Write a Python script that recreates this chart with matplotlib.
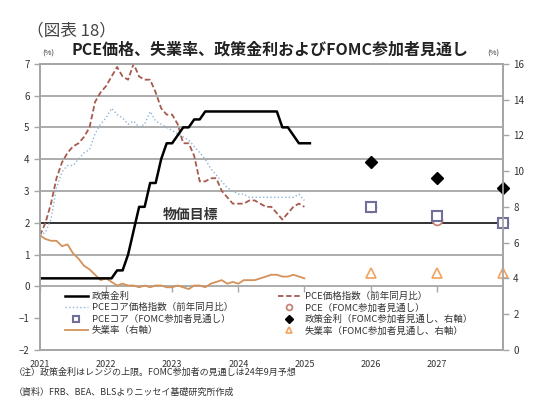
import matplotlib
matplotlib.use('Agg')
import matplotlib.pyplot as plt
import numpy as np

plt.rcParams['font.family'] = ['Noto Sans CJK JP', 'DejaVu Sans']

# monthly data, Jan 2021 onwards
pce = [1.6, 2.0, 2.6, 3.4, 3.9, 4.2, 4.4, 4.5, 4.7, 5.0, 5.8, 6.1,
       6.3, 6.6, 6.9, 6.6, 6.5, 7.0, 6.6, 6.5, 6.5, 6.1, 5.6, 5.4,
       5.4, 5.1, 4.5, 4.5, 4.1, 3.3, 3.3, 3.4, 3.4, 3.0, 2.8, 2.6,
       2.6, 2.6, 2.7, 2.7, 2.6, 2.5, 2.5, 2.3, 2.1, 2.3, 2.5, 2.6,
       2.5]
core = [1.6, 1.7, 2.1, 3.1, 3.6, 3.8, 3.8, 4.0, 4.2, 4.3, 4.8, 5.1,
        5.3, 5.6, 5.4, 5.3, 5.1, 5.2, 5.0, 5.1, 5.5, 5.2, 5.1, 5.0,
        4.9, 4.8, 4.7, 4.6, 4.4, 4.2, 4.0, 3.7, 3.5, 3.3, 3.1, 3.0,
        2.9, 2.9, 2.8, 2.8, 2.8, 2.8, 2.8, 2.8, 2.8, 2.8, 2.8, 2.9,
        2.7]
unemp = [6.4, 6.2, 6.1, 6.1, 5.8, 5.9, 5.4, 5.1, 4.7, 4.5, 4.2, 3.9,
         4.0, 3.8, 3.6, 3.7, 3.6, 3.6, 3.5, 3.6, 3.5, 3.6, 3.6, 3.5,
         3.5, 3.6, 3.5, 3.4, 3.6, 3.6, 3.5, 3.7, 3.8, 3.9, 3.7, 3.8,
         3.7, 3.9, 3.9, 3.9, 4.0, 4.1, 4.2, 4.2, 4.1, 4.1, 4.2, 4.1,
         4.0]
rate = [0.25] * 12 + \
       [0.25, 0.25, 0.5, 0.5, 1.0, 1.75, 2.5, 2.5, 3.25, 3.25, 4.0, 4.5] + \
       [4.5, 4.75, 5.0, 5.0, 5.25, 5.25, 5.5, 5.5, 5.5, 5.5, 5.5, 5.5] + \
       [5.5, 5.5, 5.5, 5.5, 5.5, 5.5, 5.5, 5.5, 5.0, 5.0, 4.75, 4.5] + \
       [4.5, 4.5]

# FOMC projections (end of 2025, 2026, 2027)
proj_x = [2026, 2027, 2028]
proj_pce = [2.5, 2.1, 2.0]
proj_core = [2.5, 2.2, 2.0]
proj_rate = [3.9, 3.4, 3.1]
proj_unemp = [4.3, 4.3, 4.3]

years = [2021, 2022, 2023, 2024, 2025, 2026, 2027]

def months(n):
    return 2021 + np.arange(n) / 12.0

def to_left(v):
    # right axis 0..16 mapped onto left axis -2..7
    return np.array(v) * 9 / 16 - 2

gray = '#a6a6a6'
c_pce = '#a65a4e'
c_core = '#8db4d8'
c_unemp = '#d4925a'
c_sq = '#6f6f99'
c_circ = '#c4847a'
c_tri = '#f2a35e'

fig = plt.figure(figsize=(5.4, 4.17), dpi=100)
ax = fig.add_axes([0.074, 0.161, 0.857, 0.686])
ax2 = ax.twinx()

for g in [0, 1, 3, 4, 5, 6]:
    ax.axhline(g, color=gray, lw=1.3, zorder=1)
ax.axhline(2, color='#222222', lw=1.3, zorder=1)
ax.plot(years, [0] * len(years), ls='none', marker=3, ms=4, color=gray, mew=1, zorder=1)

l_rate, = ax.plot(months(len(rate)), rate, color='black', lw=1.8, zorder=4)
l_core, = ax.plot(months(len(core)), core, color=c_core, lw=1.0, ls=':', zorder=3)
l_pce, = ax.plot(months(len(pce)), pce, color=c_pce, lw=1.3, ls=(0, (3, 1.5)), zorder=3)
l_un, = ax.plot(months(len(unemp)), to_left(unemp), color=c_unemp, lw=1.3, zorder=3)

m_circ, = ax.plot(proj_x, proj_pce, ls='none', marker='o', ms=7, mfc='white',
                  mec=c_circ, mew=1.3, zorder=5, clip_on=False)
m_sq, = ax.plot(proj_x, proj_core, ls='none', marker='s', ms=7.5, mfc='white',
                mec=c_sq, mew=1.5, zorder=6, clip_on=False)
m_dia, = ax.plot(proj_x, proj_rate, ls='none', marker='D', ms=6.5, color='black',
                 zorder=6, clip_on=False)
m_tri, = ax.plot(proj_x, to_left(proj_unemp), ls='none', marker='^', ms=7, mfc='white',
                 mec=c_tri, mew=1.2, zorder=6, clip_on=False)

ax.text(2022.85, 2.25, '物価目標', fontsize=10, fontweight='bold', color='#333333',
        va='center', ha='left')

ax.set_xlim(2021, 2028)
ax.set_ylim(-2, 7)
ax2.set_ylim(0, 16)
ax.set_yticks(range(-2, 8))
ax2.set_yticks(range(0, 17, 2))
ax.set_xticks(years)
ax.set_xticklabels([str(y) for y in years])
ax.tick_params(axis='x', length=0, labelsize=6.5, colors='#333333', pad=7)
ax.tick_params(axis='y', length=4, width=1, color=gray, labelsize=7, labelcolor='#333333')
ax2.tick_params(axis='y', length=4, width=1, color=gray, labelsize=7, labelcolor='#333333')
for a in (ax, ax2):
    for s in a.spines.values():
        s.set_color(gray)
        s.set_linewidth(1.3)

handles = [l_rate, l_core, m_sq, l_un, l_pce, m_circ, m_dia, m_tri]
labels = ['政策金利', 'PCEコア価格指数（前年同月比）', 'PCEコア（FOMC参加者見通し）', '失業率（右軸）',
          'PCE価格指数（前年同月比）', 'PCE（FOMC参加者見通し）', '政策金利（FOMC参加者見通し、右軸）',
          '失業率（FOMC参加者見通し、右軸）']
leg = ax.legend(handles, labels, ncol=2, loc='upper left', bbox_to_anchor=(0.04, 0.225),
                frameon=False, fontsize=6.8, handlelength=2.4, labelspacing=0.22,
                columnspacing=4.8, handletextpad=0.4, markerscale=0.6, borderpad=0.2)
for t in leg.get_texts():
    t.set_color('#333333')

fig.text(0.5, 0.862, 'PCE価格、失業率、政策金利およびFOMC参加者見通し', ha='center', va='bottom',
         fontsize=11.5, fontweight='bold', color='#222222')
fig.text(0.078, 0.862, '(%)', fontsize=5.5, color='#333333', ha='left', va='bottom')
fig.text(0.903, 0.862, '(%)', fontsize=5.5, color='#333333', ha='left', va='bottom')
fig.text(0.05, 0.925, '（図表 18）', fontsize=12, color='#444444', ha='left', va='center')
fig.text(0.025, 0.108, '（注）政策金利はレンジの上限。FOMC参加者の見通しは24年9月予想',
         fontsize=6.5, color='#333333', ha='left', va='center')
fig.text(0.025, 0.06, '（資料）FRB、BEA、BLSよりニッセイ基礎研究所作成',
         fontsize=6.5, color='#333333', ha='left', va='center')

fig.savefig('out.png', dpi=100)
